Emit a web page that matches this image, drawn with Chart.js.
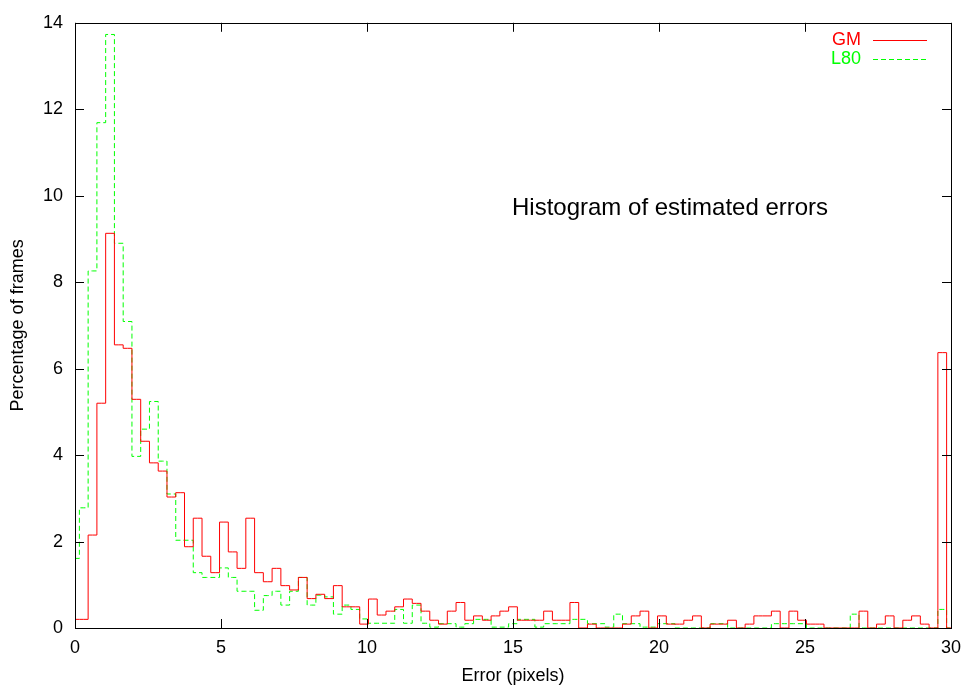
<!DOCTYPE html>
<html>
<head>
<meta charset="utf-8">
<script src="https://cdn.jsdelivr.net/npm/chart.js@4/dist/chart.umd.min.js"></script>
<style>
  body { margin: 0; background: #fff; }
  canvas { display: block; }
</style>
</head>
<body>
<canvas id="histChart" width="961" height="685"></canvas>
<script>
// bin centres (pixels of error), one bin every 0.3 px
const errorBins = [
  0, 0.3, 0.6, 0.9, 1.2, 1.5, 1.8, 2.1, 2.4, 2.7,
  3, 3.3, 3.6, 3.9, 4.2, 4.5, 4.8, 5.1, 5.4, 5.7,
  6, 6.3, 6.6, 6.9, 7.2, 7.5, 7.8, 8.1, 8.4, 8.7,
  9, 9.3, 9.6, 9.9, 10.2, 10.5, 10.8, 11.1, 11.4, 11.7,
  12, 12.3, 12.6, 12.9, 13.2, 13.5, 13.8, 14.1, 14.4, 14.7,
  15, 15.3, 15.6, 15.9, 16.2, 16.5, 16.8, 17.1, 17.4, 17.7,
  18, 18.3, 18.6, 18.9, 19.2, 19.5, 19.8, 20.1, 20.4, 20.7,
  21, 21.3, 21.6, 21.9, 22.2, 22.5, 22.8, 23.1, 23.4, 23.7,
  24, 24.3, 24.6, 24.9, 25.2, 25.5, 25.8, 26.1, 26.4, 26.7,
  27, 27.3, 27.6, 27.9, 28.2, 28.5, 28.8, 29.1, 29.4, 29.7,
  30
];

// percentage of frames, GM
const gmValues = [
  0.2, 0.2, 2.15, 5.2, 9.13, 6.55, 6.47, 5.29, 4.32, 3.82,
  3.63, 3.03, 3.13, 1.88, 2.54, 1.66, 1.28, 2.45, 1.76, 1.38,
  2.54, 1.28, 1.07, 1.38, 0.98, 0.88, 1.17, 0.68, 0.78, 0.68,
  0.98, 0.49, 0.49, 0.09, 0.67, 0.3, 0.39, 0.49, 0.67, 0.57,
  0.39, 0.18, 0.09, 0.39, 0.59, 0.18, 0.28, 0.18, 0.28, 0.39,
  0.49, 0.18, 0.18, 0.18, 0.39, 0.18, 0.18, 0.59, 0, 0.09,
  0, 0, 0, 0.09, 0.28, 0.39, 0, 0.28, 0.09, 0.09,
  0.18, 0.28, 0, 0.09, 0.09, 0.18, 0, 0.09, 0.28, 0.28,
  0.39, 0, 0.39, 0.18, 0.09, 0.09, 0, 0, 0, 0,
  0.39, 0, 0.09, 0.28, 0, 0.18, 0.28, 0.09, 0, 6.37,
  0
];

// percentage of frames, L80
const l80Values = [
  1.61, 2.78, 8.26, 11.69, 13.73, 8.9, 7.09, 3.97, 4.6, 5.24,
  3.86, 3.1, 2.03, 2.03, 1.28, 1.17, 1.17, 1.39, 1.17, 0.85,
  0.85, 0.41, 0.75, 0.85, 0.53, 0.85, 1.17, 0.53, 0.76, 0.72,
  0.32, 0.53, 0.43, 0.21, 0.11, 0.11, 0.11, 0.43, 0.11, 0.53,
  0.11, 0.02, 0.1, 0.1, 0.02, 0.1, 0.2, 0.2, 0.02, 0.02,
  0.1, 0.2, 0.2, 0.02, 0.1, 0.1, 0.1, 0.2, 0.2, 0.1,
  0.1, 0.02, 0.32, 0.1, 0.1, 0.02, 0.02, 0.1, 0.1, 0,
  0, 0, 0, 0.1, 0.1, 0, 0, 0, 0, 0,
  0.1, 0.1, 0.1, 0.1, 0, 0, 0, 0, 0, 0.32,
  0, 0, 0, 0, 0, 0, 0, 0, 0, 0.43,
  0
];

const xTicks = [0, 5, 10, 15, 20, 25, 30];
const yTicks = [0, 2, 4, 6, 8, 10, 12, 14];
const plotLabel = 'Histogram of estimated errors';

const FONT = 'Liberation Sans, Arial, Helvetica, sans-serif';

function toPoints(values) {
  return values.map((v, i) => ({ x: errorBins[i], y: v }));
}

// gnuplot style frame: full border with ticks pointing inwards on all four sides
const framePlugin = {
  id: 'frame',
  afterDraw(chart) {
    const { ctx, chartArea: a, scales } = chart;
    const tick = 9;
    ctx.save();
    ctx.strokeStyle = '#000';
    ctx.lineWidth = 1;
    ctx.beginPath();
    xTicks.forEach(v => {
      const px = Math.round(scales.x.getPixelForValue(v)) + 0.5;
      ctx.moveTo(px, a.bottom); ctx.lineTo(px, a.bottom - tick);
      ctx.moveTo(px, a.top); ctx.lineTo(px, a.top + tick);
    });
    yTicks.forEach(v => {
      const py = Math.round(scales.y.getPixelForValue(v)) + 0.5;
      ctx.moveTo(a.left, py); ctx.lineTo(a.left + tick, py);
      ctx.moveTo(a.right, py); ctx.lineTo(a.right - tick, py);
    });
    ctx.stroke();
    ctx.strokeRect(Math.round(a.left) + 0.5, Math.round(a.top) + 0.5,
      Math.round(a.right - a.left), Math.round(a.bottom - a.top));

    // label inside the plot
    ctx.fillStyle = '#000';
    ctx.font = '24px ' + FONT;
    ctx.textAlign = 'left';
    ctx.textBaseline = 'alphabetic';
    ctx.fillText(plotLabel, 512, 215);

    // key, top right
    ctx.font = '18px ' + FONT;
    ctx.textAlign = 'right';
    ctx.textBaseline = 'middle';
    chart.data.datasets.forEach((ds, i) => {
      const y = 40 + i * 19;
      ctx.fillStyle = ds.borderColor;
      ctx.fillText(ds.label, 861, y);
      ctx.strokeStyle = ds.borderColor;
      ctx.setLineDash(ds.borderDash || []);
      ctx.beginPath();
      ctx.moveTo(873, y + 0.5);
      ctx.lineTo(927, y + 0.5);
      ctx.stroke();
    });
    ctx.restore();
  }
};

const ctx = document.getElementById('histChart').getContext('2d');

const histChart = new Chart(ctx, {
  type: 'line',
  data: {
    datasets: [{
      label: 'GM',
      data: toPoints(gmValues),
      borderColor: '#ff0000',
      borderWidth: 1,
      stepped: 'middle',
      pointRadius: 0,
      fill: false
    }, {
      label: 'L80',
      data: toPoints(l80Values),
      borderColor: '#00ff00',
      borderWidth: 1,
      borderDash: [5, 3],
      stepped: 'middle',
      pointRadius: 0,
      fill: false
    }]
  },
  options: {
    responsive: false,
    animation: false,
    layout: { padding: { top: 21, right: 0, left: 0, bottom: 0 } },
    plugins: {
      legend: { display: false },
      tooltip: { enabled: false }
    },
    scales: {
      x: {
        type: 'linear',
        min: 0,
        max: 30,
        afterBuildTicks: s => { s.ticks = xTicks.map(v => ({ value: v })); },
        afterFit: s => { s.height = 57; s.paddingRight = 10; },
        grid: { display: false, drawTicks: false },
        border: { display: false },
        ticks: { color: '#000', padding: 9, maxRotation: 0, font: { family: FONT, size: 18 } },
        title: {
          display: true,
          text: 'Error (pixels)',
          color: '#000',
          padding: { top: 0, bottom: 0 },
          font: { family: FONT, size: 18, lineHeight: 1 }
        }
      },
      y: {
        min: 0,
        max: 14,
        afterBuildTicks: s => { s.ticks = yTicks.map(v => ({ value: v })); },
        afterFit: s => { s.width = 75; },
        grid: { display: false, drawTicks: false },
        border: { display: false },
        ticks: { color: '#000', padding: 12, font: { family: FONT, size: 18 } },
        title: {
          display: true,
          text: 'Percentage of frames',
          color: '#000',
          padding: { top: 9, bottom: 0 },
          font: { family: FONT, size: 18, lineHeight: 1 }
        }
      }
    }
  },
  plugins: [framePlugin]
});
</script>
</body>
</html>
